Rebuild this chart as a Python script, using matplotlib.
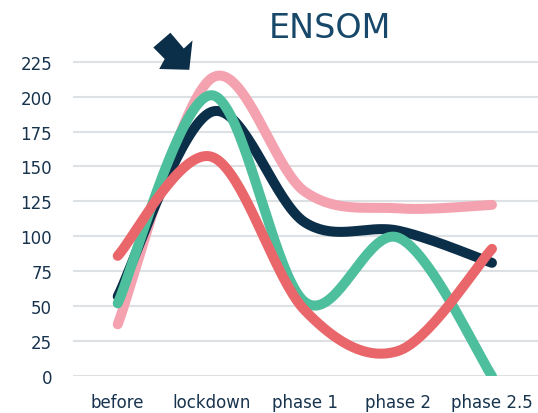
import numpy as np
import matplotlib
matplotlib.use("Agg")
import matplotlib.pyplot as plt
from matplotlib.patches import Polygon

# data
categories = ["before", "lockdown", "phase 1", "phase 2", "phase 2.5"]
pink = [37, 213, 132, 120, 122.5]
navy = [57, 189, 110, 104, 81]
green = [52, 201, 53, 99, 0]
red = [86, 157, 47, 18, 91]
yticks = [0, 25, 50, 75, 100, 125, 150, 175, 200, 225]

W, H = 538, 414
text_col = "#17334d"


def smooth(ys, n=40):
    # excel-like bezier smoothing through the points
    pts = np.array([[i, y] for i, y in enumerate(ys)], dtype=float)
    out = []
    for i in range(len(pts) - 1):
        p0 = pts[i - 1] if i > 0 else pts[i]
        p1 = pts[i]
        p2 = pts[i + 1]
        p3 = pts[i + 2] if i + 2 < len(pts) else pts[i + 1]
        c1 = p1 + (p2 - p0) / 6.0
        c2 = p2 - (p3 - p1) / 6.0
        t = np.linspace(0, 1, n)[:, None]
        seg = (1 - t) ** 3 * p1 + 3 * (1 - t) ** 2 * t * c1 + 3 * (1 - t) * t ** 2 * c2 + t ** 3 * p2
        if i > 0:
            seg = seg[1:]
        out.append(seg)
    out = np.vstack(out)
    return out[:, 0], out[:, 1]


fig = plt.figure(figsize=(W / 100, H / 100), dpi=100)
ax = fig.add_axes([73 / W, (H - 377) / H, (W - 73) / W, 335.3 / H])

series = [(pink, "#f4a2b0"), (navy, "#0c2f49"), (green, "#4dbf9c"), (red, "#e9676a")]
for ys, col in series:
    x, y = smooth(ys)
    ax.plot(x, y, color=col, lw=7.2, solid_capstyle="round", zorder=3)

ax.set_xlim(-0.478, 4.492)
ax.set_ylim(0, 240)
ax.set_yticks(yticks)
ax.set_xticks(range(len(categories)))
ax.set_xticklabels(categories)
ax.tick_params(axis="both", length=0, labelsize=12, colors=text_col)
ax.tick_params(axis="x", pad=12)
ax.tick_params(axis="y", pad=15)
ax.yaxis.grid(True, color="#dde1e4", lw=1.5)
ax.set_axisbelow(True)
for s in ax.spines.values():
    s.set_visible(False)

fig.text(329.5 / W, 1 - 38.3 / H, "ENSOM", ha="center", va="baseline",
         fontsize=24, color="#17486a")

# arrow pointing at lockdown, in pixel coords of the figure
arrow_px = [(170.4, 33.7), (153.3, 48.5), (164.7, 60), (159.2, 70),
            (189.3, 70.8), (192.5, 41.5), (183.8, 49.5)]
arrow = Polygon([(px / W, 1 - py / H) for px, py in arrow_px], closed=True,
                transform=fig.transFigure, facecolor="#0c2f49", edgecolor="none")
fig.patches.append(arrow)

fig.savefig("out.png", dpi=100)
